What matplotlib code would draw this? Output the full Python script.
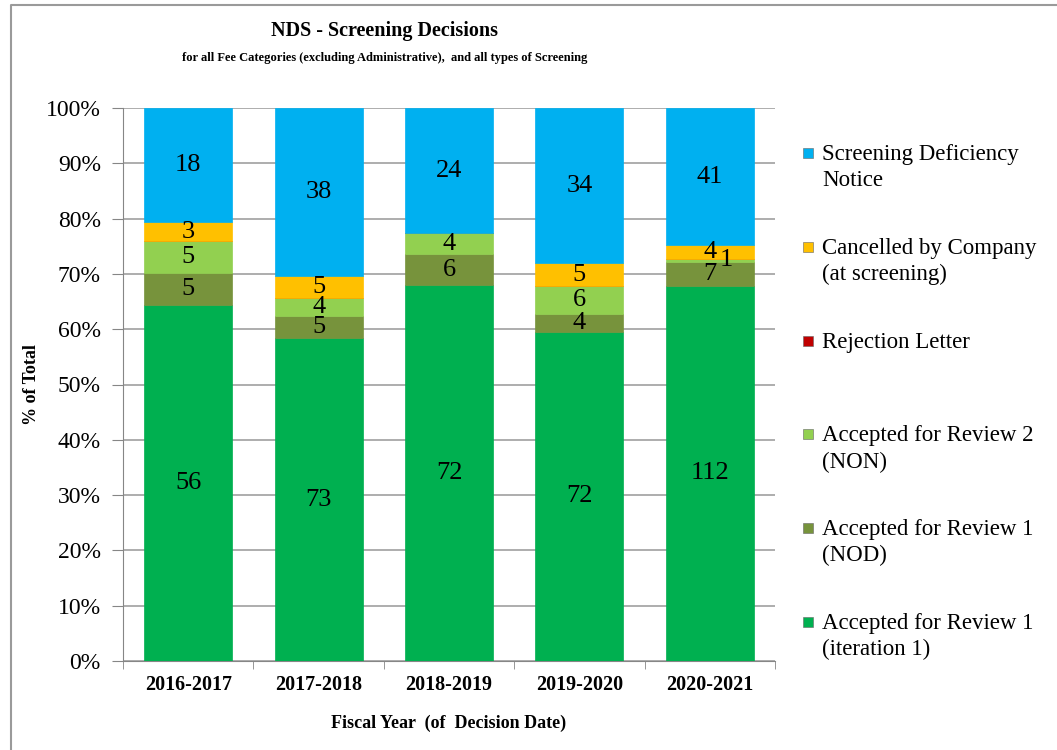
#!/usr/bin/env python3
"""NDS screening decisions: 100% stacked bars per fiscal year, counts as labels."""
import numpy as np
import matplotlib
matplotlib.use("Agg")
import matplotlib.pyplot as plt
from matplotlib.patches import Rectangle
from matplotlib.lines import Line2D

plt.rcParams["font.family"] = ["Liberation Serif", "DejaVu Serif"]

years = ["2016-2017", "2017-2018", "2018-2019", "2019-2020", "2020-2021"]
# bottom -> top stacking order
iter1      = [56, 73, 72, 72, 112]
nod        = [5, 5, 6, 4, 7]
non        = [5, 4, 4, 6, 1]
rejection  = [0, 0, 0, 0, 0]
cancelled  = [3, 5, 0, 5, 4]
deficiency = [18, 38, 24, 34, 41]

series = [
    ("Accepted for Review 1\n(iteration 1)", iter1, "#00B050"),
    ("Accepted for Review 1\n(NOD)", nod, "#77933C"),
    ("Accepted for Review 2\n(NON)", non, "#92D050"),
    ("Rejection Letter", rejection, "#C00000"),
    ("Cancelled by Company\n(at screening)", cancelled, "#FFC000"),
    ("Screening Deficiency\nNotice", deficiency, "#00B0F0"),
]

W, H = 1057, 750
fig = plt.figure(figsize=(W / 100, H / 100), dpi=100)
# chart-area border (only left and top edges fall inside the image)
fig.add_artist(Line2D([11 / W, 11 / W, 1.0], [0.0, 1 - 5 / H, 1 - 5 / H],
                      transform=fig.transFigure, color="#9a9a9a", lw=1.5))
ax = fig.add_axes([123 / W, 1 - 661 / H, 652 / W, 553 / H])

totals = np.sum([s[1] for s in series], axis=0)
x = np.arange(len(years))
bottom = np.zeros(len(years))
for name, vals, col in series:
    pct = np.array(vals) / totals * 100
    ax.bar(x, pct, bottom=bottom, width=0.675, color=col, edgecolor=col,
           linewidth=0.5, zorder=3)
    for i, v in enumerate(vals):
        if v == 0:
            continue
        xi = x[i] + (0.13 if pct[i] < 1.5 else 0)
        ax.text(xi, bottom[i] + pct[i] / 2, str(v), ha="center", va="center",
                fontsize=19, zorder=4)
    bottom += pct

ax.set_xlim(-0.5, len(years) - 0.5)
ax.set_ylim(0, 100)
ax.set_yticks(np.arange(0, 101, 10))
ax.set_yticklabels([f"{t}%" for t in range(0, 101, 10)], fontsize=17)
ax.set_xticks(x)
ax.set_xticklabels(years, fontsize=14.5, fontweight="bold")
ax.set_xticks(np.arange(-0.5, len(years), 1), minor=True)
ax.tick_params(axis="x", which="major", length=0, pad=10)
ax.tick_params(axis="x", which="minor", length=6, color="#868686")
ax.tick_params(axis="y", length=8, color="#868686", pad=8)
ax.grid(axis="y", color="#a0a0a0", linewidth=1.2, zorder=0)
for s in ["top", "right"]:
    ax.spines[s].set_visible(False)
for s in ["left", "bottom"]:
    ax.spines[s].set_color("#868686")

ax.set_ylabel("% of Total", fontsize=13, fontweight="bold", labelpad=4)
ax.set_xlabel("Fiscal Year  (of  Decision Date)", fontsize=13,
              fontweight="bold", labelpad=14)

fig.text(385 / W, 1 - 31 / H, "NDS - Screening Decisions", ha="center",
         va="center", fontsize=14.5, fontweight="bold")
fig.text(385 / W, 1 - 58 / H,
         "for all Fee Categories (excluding Administrative),  and all types of Screening",
         ha="center", va="center", fontsize=9, fontweight="bold")

# hand-placed legend, top entry first, evenly spaced
for k, (name, vals, col) in enumerate(reversed(series)):
    ymid = 153 + k * 93.8
    fig.add_artist(Rectangle((803 / W, 1 - (ymid + 5) / H), 10 / W, 10 / H,
                             transform=fig.transFigure, facecolor=col,
                             edgecolor="#666666", linewidth=0.4))
    fig.text(822 / W, 1 - (ymid - 9) / H, name, ha="left", va="top",
             fontsize=16.5, linespacing=1.32)

fig.savefig("out.png", dpi=100)
